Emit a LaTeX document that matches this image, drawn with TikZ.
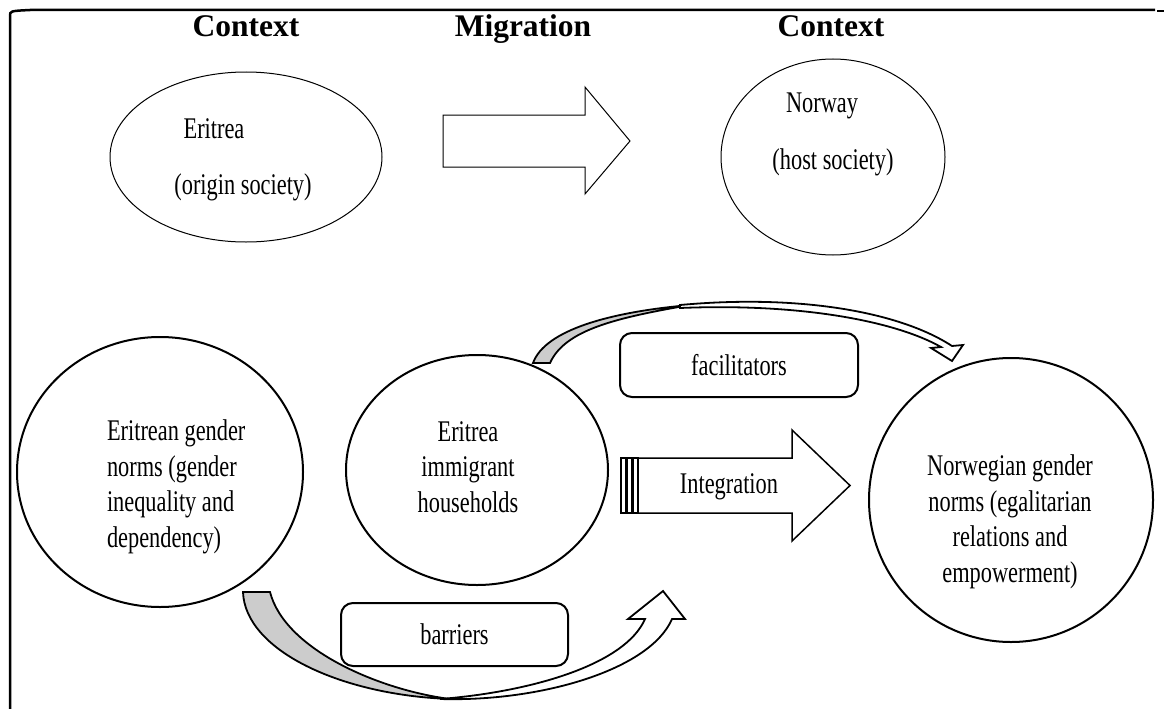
\documentclass[tikz,border=0pt]{standalone}
\usepackage{fontspec}
\setmainfont{Liberation Serif}
\newfontfamily\condfont[FakeStretch=0.745]{Liberation Serif}
\usetikzlibrary{shapes.geometric}
\begin{document}
\begin{tikzpicture}[x=1pt,y=-1pt,
  every node/.style={inner sep=0pt,outer sep=0pt},
  title/.style={font=\fontsize{31.5}{34}\selectfont\bfseries,anchor=base},
  body/.style={font=\condfont\fontsize{30}{35.5}\selectfont,align=center},
  oval/.style={draw,ellipse,line width=1pt},
  circ/.style={draw,ellipse,line width=2pt},
  box/.style={draw,rounded corners=12pt,line width=2pt,font=\condfont\fontsize{30}{35.5}\selectfont},
  blockarrow/.style={draw,line width=1.5pt,line join=miter,fill=white},
  ribbon/.style={draw,line width=1.8pt,line join=miter},
  stripe/.style={draw,line width=1.3pt}
]
\useasboundingbox (0,0) rectangle (1164,709);
% frame
\draw[line width=2.5pt] (10,709) -- (10,16) .. controls (10,11) .. (30,10) -- (1155,10);
\draw[line width=1.5pt] (1157,11) -- (1164,11);
% titles
\node[title] (t1) at (246,37) {Context};
\node[title] (t2) at (523,37) {Migration};
\node[title] (t3) at (831,37) {Context};
% top ellipses
\node[oval,minimum width=272,minimum height=170] (eri) at (246,157) {};
\node[body] (eriA) at (214,129) {Eritrea};
\node[body] (eriB) at (243,187) {(origin society)};
\node[oval,minimum width=224,minimum height=196] (nor) at (833,157) {};
\node[body] (norA) at (822,106) {Norway};
\node[body] (norB) at (833,162) {(host society)};
% migration arrow
\draw[blockarrow,line width=1pt] (443,115) -- (585,115) -- (585,87) -- (630,141) -- (585,194) -- (585,167) -- (443,167) -- cycle;
% bottom circles
\node[circ,minimum width=286,minimum height=270] (egn) at (160,472) {};
\node[body,align=left,anchor=west] (egnT) at (107,487) {Eritrean gender\\norms (gender\\inequality and\\dependency)};
\node[circ,minimum width=262,minimum height=230] (eih) at (477,470) {};
\node[body] (eihT) at (468,467) {Eritrea\\immigrant\\households};
\node[circ,minimum width=284,minimum height=284] (ngn) at (1011,500) {};
\node[body] (ngnT) at (1010,522) {Norwegian gender\\norms (egalitarian\\relations and\\empowerment)};
% facilitators curved arrow
\draw[ribbon,fill=gray!40] (533,363) .. controls (545,330) and (610,312) .. (690,305) .. controls (615,318) and (565,330) .. (550,363) -- cycle;
\draw[ribbon,fill=white] (680,305) .. controls (800,294) and (900,312) .. (952,346) -- (963,345) -- (952,361) -- (931,348) -- (941,347) .. controls (895,321) and (800,303) .. (680,308) -- cycle;
% barriers curved arrow
\draw[ribbon,fill=gray!40] (243,592) .. controls (245,650) and (340,695) .. (450,699) .. controls (380,690) and (285,650) .. (270,592) -- cycle;
\draw[ribbon,fill=white] (440,699) .. controls (540,702) and (650,670) .. (672,619) -- (685,619) -- (663,591) -- (628,619) -- (645,619) .. controls (625,665) and (530,692) .. (440,699) -- cycle;
% boxes
\node[box,minimum width=238,minimum height=64] (fac) at (739,365) {facilitators};
\node[box,minimum width=227,minimum height=63] (bar) at (454.5,634.5) {barriers};
% integration arrow
\draw[stripe] (621,458) rectangle (626,513);
\draw[stripe] (627,458) rectangle (632,513);
\draw[stripe] (633,458) rectangle (638,513);
\draw[blockarrow] (638,458) -- (792,458) -- (792,430) -- (850,485.5) -- (792,541) -- (792,513) -- (638,513) -- cycle;
\node[body] (int) at (729,487) {Integration};
\end{tikzpicture}
\end{document}
